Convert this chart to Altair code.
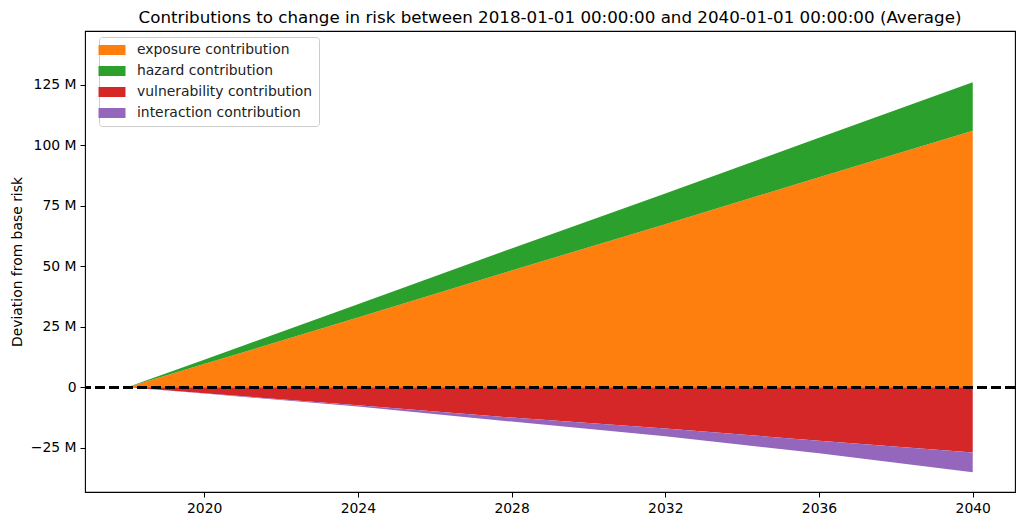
import altair as alt
import pandas as pd

# Years and contributions (in millions)
years = [2018, 2020, 2024, 2028, 2032, 2036, 2040]
exposure = [0.0, 9.6, 28.8, 48.3, 67.4, 86.8, 106.1]
hazard = [0.0, 1.8, 5.5, 9.1, 12.7, 16.4, 20.0]
vulnerability = [0.0, -2.5, -7.4, -12.5, -17.0, -22.1, -27.0]
interaction = [0.0, -0.1, -0.6, -1.7, -3.2, -5.2, -8.1]

series_names = ["exposure contribution", "hazard contribution",
                "vulnerability contribution", "interaction contribution"]
series_values = [exposure, hazard, vulnerability, interaction]
colors = ["#ff7f0e", "#2ca02c", "#d62728", "#9467bd"]

y_ticks = [-25, 0, 25, 50, 75, 100, 125]
x_ticks = [2020, 2024, 2028, 2032, 2036, 2040]

rows = []
for i, (name, vals) in enumerate(zip(series_names, series_values)):
    for yr, v in zip(years, vals):
        rows.append({"year": yr, "value": v, "series": name, "order": i})
df = pd.DataFrame(rows)

FONT = "DejaVu Sans"

areas = alt.Chart(df).mark_area(opacity=1, strokeWidth=0).encode(
    x=alt.X("year:Q", scale=alt.Scale(domain=[2016.9, 2041.1], nice=False, zero=False),
            axis=alt.Axis(values=x_ticks, format="d", title=None, grid=False, domain=False,
                          tickColor="black", tickSize=5, labelPadding=4,
                          labelFontSize=13.9, labelColor="black", labelFont=FONT)),
    y=alt.Y("value:Q", stack="zero",
            scale=alt.Scale(domain=[-43.3, 147.3], nice=False, zero=False),
            axis=alt.Axis(values=y_ticks, grid=False, domain=False,
                          tickColor="black", tickSize=5, labelPadding=4,
                          labelExpr="datum.value == 0 ? '0' : replace(format(datum.value, 'd'), '-', '\u2212') + ' M'",
                          labelFontSize=13.9, labelColor="black", labelFont=FONT,
                          title="Deviation from base risk", titleFontSize=13.9,
                          titleFontWeight="normal", titleColor="black", titleFont=FONT,
                          titlePadding=6)),
    color=alt.Color("series:N", sort=series_names,
                    scale=alt.Scale(domain=series_names, range=colors),
                    legend=alt.Legend(title=None, orient="none", legendX=14, legendY=6,
                                      symbolType="M-2,-0.74H2V0.74H-2Z", symbolSize=182,
                                      symbolStrokeWidth=0, symbolOpacity=1,
                                      labelFontSize=13.9, labelFont=FONT, labelColor="#222",
                                      labelLimit=0, labelOffset=18, rowPadding=7,
                                      padding=6, strokeColor="#cccccc", fillColor="white",
                                      cornerRadius=3)),
    order=alt.Order("order:Q"),
)

zero_line = alt.Chart(df).mark_rule(color="black", strokeWidth=2.7, strokeDash=[10, 4]).encode(
    y=alt.datum(0)
)

chart = alt.layer(areas, zero_line).properties(
    width=930,
    height=461,
    autosize=alt.AutoSizeParams(type="none"),
    padding={"left": 77, "top": 23, "right": 2, "bottom": 22},
    title=alt.Title("Contributions to change in risk between 2018-01-01 00:00:00 and 2040-01-01 00:00:00 (Average)",
                    fontSize=16.7, fontWeight="normal", font=FONT, color="black",
                    anchor="middle", offset=4),
).configure_view(stroke="black", strokeWidth=1.1)

chart.save("out.html", embed_options={"renderer": "svg", "actions": False})
